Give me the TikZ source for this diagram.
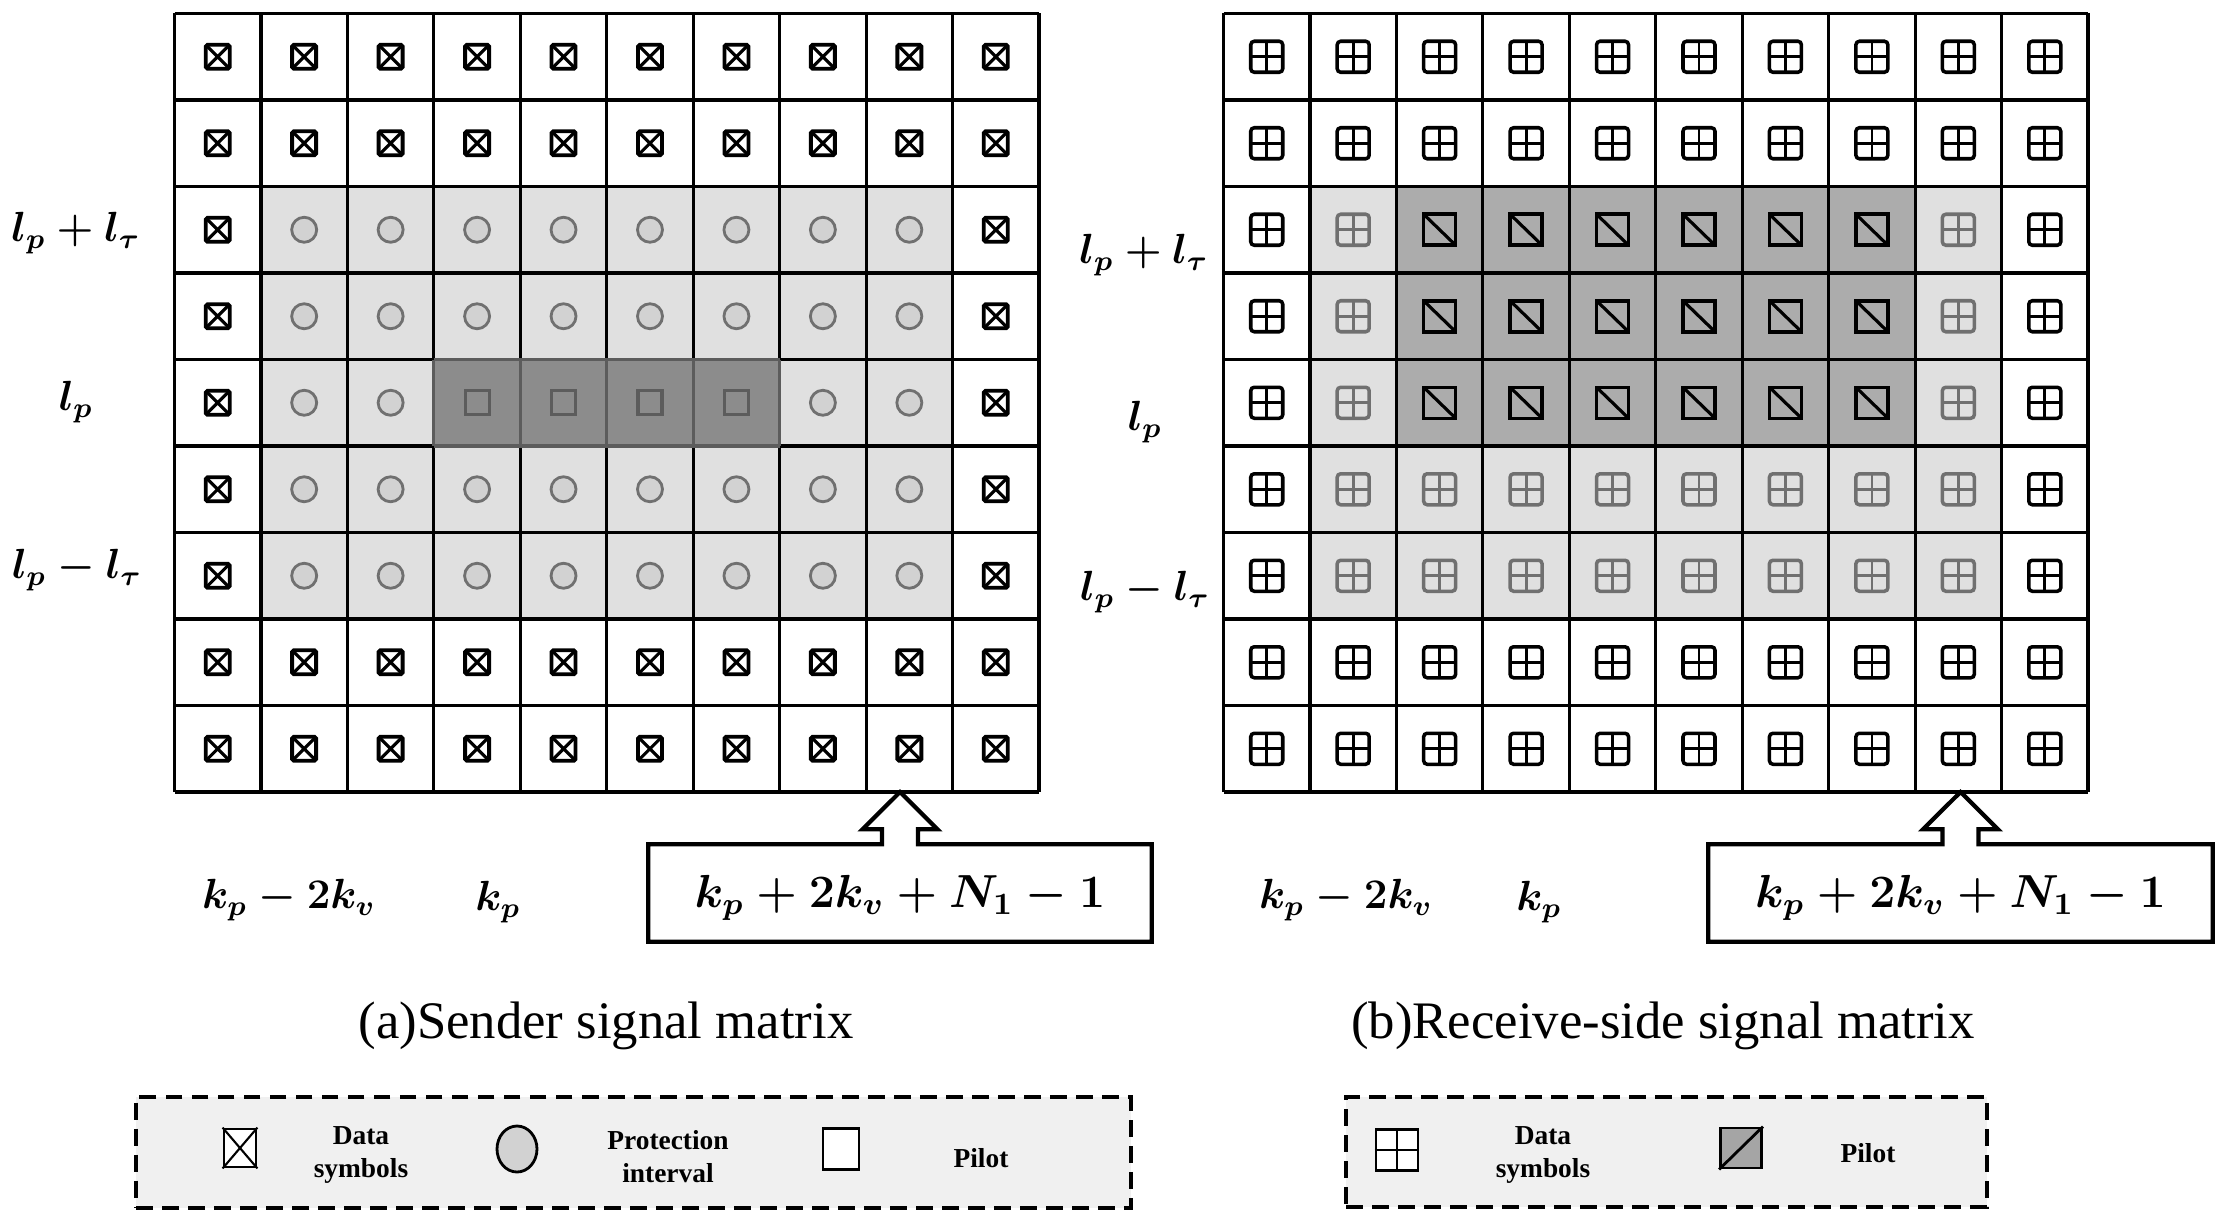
\documentclass[tikz,border=0pt]{standalone}
\usepackage{amsmath}
\usepackage{graphicx}
\usepackage{fontspec}
\setmainfont{Liberation Serif}
\usetikzlibrary{positioning,shapes.geometric}
\definecolor{guardFill}{RGB}{224,224,224}
\definecolor{pilotFillA}{RGB}{140,140,140}
\definecolor{pilotFillB}{RGB}{172,172,172}
\definecolor{pilotStroke}{RGB}{92,92,92}
\definecolor{markGray}{RGB}{112,112,112}
\definecolor{circleFill}{RGB}{210,210,210}
\definecolor{legendFill}{RGB}{240,240,240}
\definecolor{legendPilot}{RGB}{165,165,165}
\colorlet{ink}{black}
\tikzset{
  cellline/.style={draw=ink, line width=0.9pt},
  pilotline/.style={draw=pilotStroke, line width=0.9pt},
  rowlabel/.style={font=\fontsize{12}{14}\selectfont, inner sep=1pt},
  collabel/.style={font=\fontsize{12}{14}\selectfont, inner sep=1pt},
  callout/.style={draw=ink, fill=white, line width=1.2pt, line join=miter},
  caption/.style={font=\fontsize{15}{18}\selectfont},
  legendbox/.style={draw=ink, fill=legendFill, line width=1.2pt,
    dash pattern=on 4.8pt off 2.6pt},
  legtext/.style={font=\fontsize{7.8}{9.4}\selectfont\bfseries, align=center},
  legicon/.style={draw=ink, line width=0.8pt, inner sep=0pt},
  % cell marks
  xdata/.pic={
    \draw[line width=1.1pt, rounded corners=0.5pt] (-0.12cm,-0.12cm) rectangle (0.12cm,0.12cm);
    \draw[line width=0.9pt] (-0.12cm,-0.12cm) -- (0.12cm,0.12cm) (-0.12cm,0.12cm) -- (0.12cm,-0.12cm);
  },
  guard/.pic={
    \draw[draw=markGray, fill=circleFill, line width=0.8pt] (0,0) circle (0.125cm);
  },
  pilotsq/.pic={
    \draw[draw=pilotStroke, line width=0.9pt] (-0.12cm,-0.12cm) rectangle (0.12cm,0.12cm);
  },
  gdata/.pic={
    \draw[line width=1pt, rounded corners=1pt] (-0.16cm,-0.155cm) rectangle (0.16cm,0.155cm);
    \draw[line width=0.8pt] (0,-0.155cm) -- (0,0.155cm) (-0.16cm,0) -- (0.16cm,0);
  },
  gpilot/.pic={
    \draw[line width=1pt] (-0.16cm,-0.155cm) rectangle (0.16cm,0.155cm);
    \draw[line width=0.9pt] (-0.16cm,0.155cm) -- (0.16cm,-0.155cm);
  }
}

\begin{document}
\begin{tikzpicture}[x=1cm,y=1cm]
  \fill[white] (0,0) rectangle (22.26,-12.21);
  \useasboundingbox (0,0) rectangle (22.26,-12.21);

  % (a) sender matrix
  \begin{scope}[shift={(1.745,-0.135)}, x=0.8645cm, y=-0.865cm]
    \fill[guardFill] (1,2) rectangle (9,7);
    \fill[pilotFillA] (3,4) rectangle (7,5);
    \foreach \c in {0,...,10} \draw[cellline] (\c,0) -- (\c,9);
    \foreach \r in {0,...,9} \draw[cellline] (0,\r) -- (10,\r);
    \foreach \c in {3,...,7} \draw[pilotline] (\c,4) -- (\c,5);
    \draw[pilotline] (3,4) -- (7,4) (3,5) -- (7,5);
    \foreach \r in {0,1,7,8} \foreach \c in {0,...,9} \pic at (\c+0.5,\r+0.5) {xdata};
    \foreach \r in {2,...,6} \foreach \c in {0,9} \pic at (\c+0.5,\r+0.5) {xdata};
    \foreach \r in {2,3,5,6} \foreach \c in {1,...,8} \pic at (\c+0.5,\r+0.5) {guard};
    \foreach \c in {1,2,7,8} \pic at (\c+0.5,4.5) {guard};
    \foreach \c in {3,...,6} \pic at (\c+0.5,4.5) {pilotsq};
  \end{scope}

  % (b) receive-side matrix
  \begin{scope}[shift={(12.235,-0.135)}, x=0.8645cm, y=-0.865cm]
    \fill[guardFill] (1,2) rectangle (9,7);
    \fill[pilotFillB] (2,2) rectangle (8,5);
    \foreach \c in {0,...,10} \draw[cellline] (\c,0) -- (\c,9);
    \foreach \r in {0,...,9} \draw[cellline] (0,\r) -- (10,\r);
    \foreach \r in {0,1,7,8} \foreach \c in {0,...,9} \pic at (\c+0.5,\r+0.5) {gdata};
    \foreach \r in {2,...,6} \foreach \c in {0,9} \pic at (\c+0.5,\r+0.5) {gdata};
    \foreach \r in {2,3,4} \foreach \c in {1,8} \pic[color=markGray] at (\c+0.5,\r+0.5) {gdata};
    \foreach \r in {5,6} \foreach \c in {1,...,8} \pic[color=markGray] at (\c+0.5,\r+0.5) {gdata};
    \foreach \r in {2,3,4} \foreach \c in {2,...,7} \pic at (\c+0.5,\r+0.5) {gpilot};
  \end{scope}

  % row labels
  \node[rowlabel] (lpplusa) at (0.76,-2.33) {$\boldsymbol{l_p+l_\tau}$};
  \node[rowlabel] (lpa) at (0.76,-4.02) {$\boldsymbol{l_p}$};
  \node[rowlabel] (lpminusa) at (0.77,-5.70) {$\boldsymbol{l_p-l_\tau}$};
  \node[rowlabel] (lpplusb) at (11.44,-2.55) {$\boldsymbol{l_p+l_\tau}$};
  \node[rowlabel] (lpb) at (11.45,-4.22) {$\boldsymbol{l_p}$};
  \node[rowlabel] (lpminusb) at (11.45,-5.92) {$\boldsymbol{l_p-l_\tau}$};

  % column labels
  \node[collabel] (kva) at (2.89,-9.00) {$\boldsymbol{k_p-2k_v}$};
  \node[collabel] (kpa) at (4.98,-9.02) {$\boldsymbol{k_p}$};
  \node[collabel, minimum width=5.02cm, minimum height=0.96cm] (enda) at (9.00,-8.93) {};
  \node[collabel] (kvb) at (13.46,-9.00) {$\boldsymbol{k_p-2k_v}$};
  \node[collabel] (kpb) at (15.39,-9.02) {$\boldsymbol{k_p}$};
  \node[collabel, minimum width=5.03cm, minimum height=0.96cm] (endb) at (19.605,-8.93) {};
  \coordinate (tipa) at (9.00,-7.92);
  \coordinate (tipb) at (19.605,-7.92);

  \draw[callout] (enda.north west) -- ([xshift=-1.8mm]enda.north) -- ++(0,1.5mm) -- ++(-1.95mm,0)
    -- (tipa) -- ([xshift=3.75mm,yshift=1.5mm]enda.north) -- ++(-1.95mm,0) -- ++(0,-1.5mm)
    -- (enda.north east) -- (enda.south east) -- (enda.south west) -- cycle;
  \node[collabel] (endtxta) at ([yshift=-0.5mm]enda.center) {\scalebox{1.1}{$\boldsymbol{k_p+2k_v+N_1-1}$}};
  \draw[callout] (endb.north west) -- ([xshift=-1.8mm]endb.north) -- ++(0,1.5mm) -- ++(-1.95mm,0)
    -- (tipb) -- ([xshift=3.75mm,yshift=1.5mm]endb.north) -- ++(-1.95mm,0) -- ++(0,-1.5mm)
    -- (endb.north east) -- (endb.south east) -- (endb.south west) -- cycle;
  \node[collabel] (endtxtb) at ([yshift=-0.5mm]endb.center) {\scalebox{1.1}{$\boldsymbol{k_p+2k_v+N_1-1}$}};

  % captions
  \node[caption] (capa) at (6.06,-10.26) {(a)Sender signal matrix};
  \node[caption] (capb) at (16.63,-10.26) {(b)Receive-side signal matrix};

  % legends
  \node[legendbox, minimum width=9.95cm, minimum height=1.11cm] (lega) at (6.335,-11.525) {};
  \node[legicon, fill=white, minimum width=0.32cm, minimum height=0.38cm] (legx) at (2.40,-11.48) {};
  \draw[ink, line width=0.6pt] (legx.south west) -- (legx.north east) (legx.north west) -- (legx.south east);
  \node[legtext] (legdata) at (3.61,-11.55) {Data\\symbols};
  \node[legicon, ellipse, fill=circleFill, minimum width=0.40cm, minimum height=0.46cm] (legguard) at (5.17,-11.49) {};
  \node[legtext] (legguardtxt) at (6.68,-11.57) {Protection\\interval};
  \node[legicon, fill=white, minimum width=0.36cm, minimum height=0.41cm] (legpilot) at (8.41,-11.49) {};
  \node[legtext] (legpilottxt) at (9.81,-11.58) {Pilot};

  \node[legendbox, minimum width=6.41cm, minimum height=1.10cm] (legb) at (16.665,-11.52) {};
  \node[legicon, fill=white, minimum width=0.42cm, minimum height=0.41cm] (leggrid) at (13.97,-11.50) {};
  \draw[ink, line width=0.8pt] (leggrid.north) -- (leggrid.south) (leggrid.west) -- (leggrid.east);
  \node[legtext] (leggridtxt) at (15.43,-11.55) {Data\\symbols};
  \node[legicon, fill=legendPilot, minimum width=0.41cm, minimum height=0.40cm] (legdiag) at (17.41,-11.48) {};
  \draw[ink, line width=0.8pt] (legdiag.south west) -- (legdiag.north east);
  \node[legtext] (legdiagtxt) at (18.68,-11.53) {Pilot};
\end{tikzpicture}
\end{document}
